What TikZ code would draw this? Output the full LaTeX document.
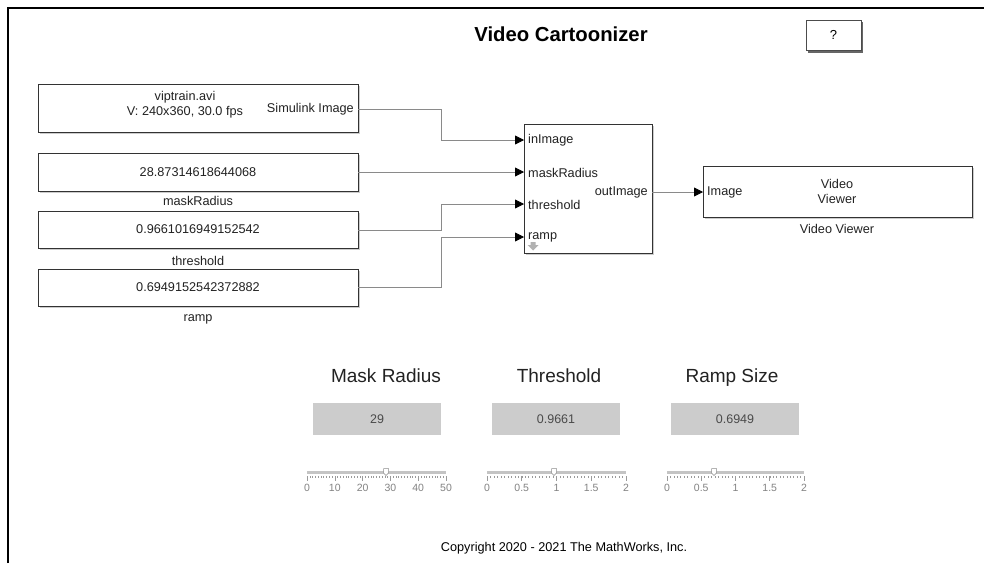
\documentclass[tikz,border=0pt]{standalone}
\usepackage{fontspec}
\setmainfont{Liberation Sans}
\usetikzlibrary{arrows.meta,calc}
\definecolor{txt}{HTML}{222222}
\definecolor{wirec}{HTML}{8A8A8A}
\definecolor{boxfill}{HTML}{CCCCCC}
\definecolor{valtxt}{HTML}{4A4A4A}
\definecolor{tickc}{HTML}{9A9A9A}
\definecolor{trackc}{HTML}{C4C4C4}
\begin{document}
\begin{tikzpicture}[x=1pt,y=-1pt,
  blk/.style={draw=black!80, line width=0.8pt, fill=white, inner sep=0pt},
  btxt/.style={text=txt, font=\fontsize{12.7}{14.5}\selectfont, inner sep=0pt, align=center},
  wire/.style={draw=wirec, line width=0.8pt},
  arr/.style={wire, -{Triangle[length=9pt,width=9pt,black]}},
  dtitle/.style={text=txt, font=\fontsize{19}{22}\selectfont, inner sep=0pt, anchor=base},
  valbox/.style={fill=boxfill, draw=none, minimum width=128pt, minimum height=32pt, inner sep=0pt,
                 text=valtxt, font=\fontsize{12.5}{14}\selectfont},
  tlabel/.style={text=tickc!85!black, font=\fontsize{10.5}{12}\selectfont, inner sep=0pt},
]
\useasboundingbox (0,0) rectangle (984,563);
\fill[white] (0,0) rectangle (984,563);
% frame
\draw[line width=1.5pt, black] (8,563) -- (8,8) -- (984,8);

% title and help button
\node[text=black, font=\fontsize{20.3}{22}\bfseries\selectfont, inner sep=0pt] (title) at (561,34) {Video Cartoonizer};
\fill[black!60] (808,22) rectangle (863,52.5);
\node[draw=black!70, fill=white, line width=0.6pt, minimum width=55pt, minimum height=30pt, inner sep=0pt,
      font=\fontsize{13}{15}\selectfont] (help) at (833.5,35) {?};

% left blocks
\newcommand\blkshadow[4]{\fill[black!20] (#1+1.5,#2+1.5) rectangle (#3+1.5,#4+1.5);}
\blkshadow{38}{84}{358}{132}
\node[blk, minimum width=320pt, minimum height=48pt] (src) at (198,108) {};
\node[btxt] (srct) at (185,104.5) {viptrain.avi\\V: 240x360, 30.0 fps};
\node[btxt, anchor=east] (srcport) at (354,109) {Simulink Image};

\blkshadow{38}{153}{358}{191}
\node[blk, minimum width=320pt, minimum height=38pt] (mr) at (198,172) {};
\node[btxt] (mrt) at (198,172) {28.87314618644068};
\node[btxt] (mrl) at (198,201) {maskRadius};

\blkshadow{38}{211}{358}{248}
\node[blk, minimum width=320pt, minimum height=37pt] (th) at (198,229.5) {};
\node[btxt] (tht) at (198,229.5) {0.9661016949152542};
\node[btxt] (thl) at (198,261) {threshold};

\blkshadow{38}{269}{358}{306}
\node[blk, minimum width=320pt, minimum height=37pt] (rp) at (198,287.5) {};
\node[btxt] (rpt) at (198,287.5) {0.6949152542372882};
\node[btxt] (rpl) at (198,319) {ramp};

% subsystem
\blkshadow{524}{124}{652}{253}
\node[blk, minimum width=128pt, minimum height=129pt] (sub) at (588,188.5) {};
\coordinate (in1) at (524,140);
\coordinate (in2) at (524,172);
\coordinate (in3) at (524,204);
\coordinate (in4) at (524,237);
\coordinate (out1) at (652,192);
\node[btxt, anchor=west] (l1) at (528,140.5) {inImage};
\node[btxt, anchor=west] (l2) at (528,173) {maskRadius};
\node[btxt, anchor=west] (l3) at (528,204.5) {threshold};
\node[btxt, anchor=west] (l4) at (528,237) {ramp};
\node[btxt, anchor=east] (lo) at (648,192) {outImage};
% small grey down arrow icon
\fill[black!30] (530.5,242) rectangle (535.5,245) (527.5,245) -- (538.5,245) -- (533,250.5) -- cycle;

% video viewer
\blkshadow{703}{166}{972}{217}
\node[blk, minimum width=269pt, minimum height=51pt] (vv) at (837.5,191.5) {};
\coordinate (vin) at (703,192);
\node[btxt, anchor=west] (vvp) at (707,192.5) {Image};
\node[btxt] (vvt) at (837,191.5) {Video\\Viewer};
\node[btxt] (vvl) at (837,229) {Video Viewer};

% connectors
\coordinate (s1) at (358,109);
\coordinate (s2) at (358,172);
\coordinate (s3) at (358,230);
\coordinate (s4) at (358,287);
\draw[arr] (s1) -| (441,140) -- (in1);
\draw[arr] (s2) -- (in2);
\draw[arr] (s3) -| (441,204) -- (in3);
\draw[arr] (s4) -| (441,237) -- (in4);
\draw[arr] (out1) -- (vin);

% dashboard
\node[dtitle] (t1) at (386,382) {Mask Radius};
\node[dtitle] (t2) at (559,382) {Threshold};
\node[dtitle] (t3) at (732,382) {Ramp Size};
\node[valbox] (v1) at (377,419) {29};
\node[valbox] (v2) at (556,419) {0.9661};
\node[valbox] (v3) at (735,419) {0.6949};

% sliders
% slider 1
\draw[trackc, line width=3pt] (307,472) -- (446,472);
\foreach \i in {0,...,50} {\draw[tickc, line width=0.5pt] ({307+139*\i/50},476) -- ({307+139*\i/50},478);}
\foreach \i/\lab in {0/0,1/10,2/20,3/30,4/40,5/50} {
  \draw[tickc, line width=0.6pt] ({307+139*\i/5},476) -- ({307+139*\i/5},481);
  \node[tlabel] at ({307+139*\i/5},488) {\lab};}
\draw[black!45, fill=white, line width=0.5pt] (383.5,468.5) -- (388.5,468.5) -- (388.5,473) -- (386,475.5) -- (383.5,473) -- cycle;
% slider 2
\draw[trackc, line width=3pt] (487,472) -- (626,472);
\foreach \i in {0,...,40} {\draw[tickc, line width=0.5pt] ({487+139*\i/40},476) -- ({487+139*\i/40},478);}
\foreach \i/\lab in {0/0,1/0.5,2/1,3/1.5,4/2} {
  \draw[tickc, line width=0.6pt] ({487+139*\i/4},476) -- ({487+139*\i/4},481);
  \node[tlabel] at ({487+139*\i/4},488) {\lab};}
\draw[black!45, fill=white, line width=0.5pt] (551.5,468.5) -- (556.5,468.5) -- (556.5,473) -- (554,475.5) -- (551.5,473) -- cycle;
% slider 3
\draw[trackc, line width=3pt] (667,472) -- (804,472);
\foreach \i in {0,...,40} {\draw[tickc, line width=0.5pt] ({667+137*\i/40},476) -- ({667+137*\i/40},478);}
\foreach \i/\lab in {0/0,1/0.5,2/1,3/1.5,4/2} {
  \draw[tickc, line width=0.6pt] ({667+137*\i/4},476) -- ({667+137*\i/4},481);
  \node[tlabel] at ({667+137*\i/4},488) {\lab};}
\draw[black!45, fill=white, line width=0.5pt] (711.5,468.5) -- (716.5,468.5) -- (716.5,473) -- (714,475.5) -- (711.5,473) -- cycle;

% copyright
\node[btxt, text=black] (copy) at (564,548) {Copyright 2020 - 2021 The MathWorks, Inc.};
\end{tikzpicture}
\end{document}
